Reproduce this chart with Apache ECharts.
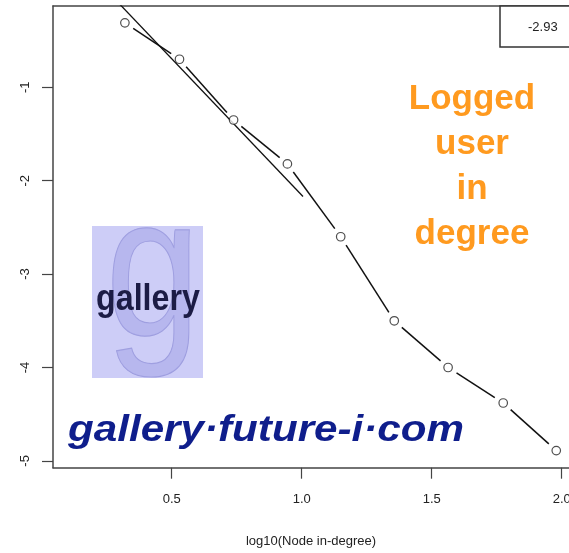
<!DOCTYPE html>
<html>
<head>
<meta charset="utf-8">
<script src="https://cdn.jsdelivr.net/npm/echarts@6/dist/echarts.min.js"></script>
<style>
html,body{margin:0;padding:0;background:#fff;}
#chart{width:569px;height:553px;}
</style>
</head>
<body>
<div id="chart"></div>
<script>
// Data
var logDegree = [0.320, 0.530, 0.738, 0.945, 1.150, 1.356, 1.563, 1.775, 1.979];
var logFreq   = [-0.31, -0.70, -1.35, -1.82, -2.60, -3.50, -4.00, -4.38, -4.89];
var fitLine   = [[0.30, -0.11], [1.005, -2.17]];
var fitLabel  = '-2.93';
var xTicks    = [0.5, 1.0, 1.5, 2.0];
var yTicks    = [-5, -4, -3, -2, -1];
var xName     = 'log10(Node in-degree)';
var noteLines = ['Logged', 'user', 'in', 'degree'];
var watermark = 'gallery\u00b7future-i\u00b7com';

var points = logDegree.map(function (x, i) { return [x, logFreq[i]]; });
var segments = [];
for (var i = 0; i < points.length - 1; i++) {
  segments.push([points[i][0], points[i][1], points[i + 1][0], points[i + 1][1]]);
}

var font = 'Liberation Sans, Arial, Helvetica, sans-serif';
var chart = echarts.init(document.getElementById('chart'), null, {renderer: 'canvas'});

var X_MIN = 0.0435, X_MAX = 2.028;

chart.setOption({
  backgroundColor: '#ffffff',
  animation: false,
  grid: {
    left: 53, top: 6, bottom: 85.3, right: 0,
    show: false, containLabel: false, outerBoundsMode: 'none'
  },
  xAxis: [{
    type: 'value', min: X_MIN, max: X_MAX,
    name: xName, nameLocation: 'middle', nameGap: 67,
    nameTextStyle: {fontFamily: font, fontSize: 13, color: '#222'},
    axisLine: {show: true, lineStyle: {color: '#444', width: 1.5}},
    axisTick: {show: true, length: 11, customValues: xTicks, lineStyle: {color: '#444', width: 1.2}},
    axisLabel: {
      show: true, customValues: xTicks, margin: 25,
      fontFamily: font, fontSize: 13, color: '#222',
      formatter: function (v) { return v.toFixed(1); }
    },
    splitLine: {show: false}
  }, {
    type: 'value', position: 'top', min: X_MIN, max: X_MAX,
    axisLine: {show: true, lineStyle: {color: '#444', width: 1.5}},
    axisTick: {show: false}, axisLabel: {show: false}, splitLine: {show: false}
  }],
  yAxis: {
    type: 'value', min: -5.073, max: -0.1296,
    axisLine: {show: true, lineStyle: {color: '#444', width: 1.5}},
    axisTick: {show: true, length: 11, customValues: yTicks, lineStyle: {color: '#444', width: 1.2}},
    axisLabel: {
      show: true, customValues: yTicks, margin: 21, rotate: 90,
      fontFamily: font, fontSize: 13, color: '#222'
    },
    splitLine: {show: false}
  },
  graphic: [
    {
      type: 'group', z: 0, silent: true,
      clipPath: {type: 'rect', shape: {x: 92, y: 226, width: 111, height: 152}},
      children: [
        {
          type: 'rect',
          shape: {x: 92, y: 226, width: 111, height: 152},
          style: {fill: '#cdcdf7'}
        },
        {
          type: 'text',
          x: 153, y: 280, scaleX: 0.85,
          style: {
            text: 'g', fontFamily: font, fontSize: 200,
            fill: 'rgba(165,165,232,0.55)', stroke: 'rgba(125,125,205,0.6)', lineWidth: 1.2,
            align: 'center', verticalAlign: 'middle'
          }
        },
        {
          type: 'text',
          x: 148, y: 300, scaleX: 0.87,
          style: {
            text: 'gallery', fontFamily: font, fontSize: 37, fontWeight: 'bold',
            fill: '#1c1c45', align: 'center', verticalAlign: 'middle'
          }
        }
      ]
    },
    {
      type: 'rect', z: 3, silent: true,
      shape: {x: 500, y: 6, width: 100, height: 41},
      style: {fill: '#fff', stroke: '#333', lineWidth: 1.5}
    },
    {
      type: 'text', z: 4, silent: true,
      x: 528, y: 27,
      style: {
        text: fitLabel, fontFamily: font, fontSize: 13, fill: '#222',
        align: 'left', verticalAlign: 'middle'
      }
    },
    {
      type: 'text', z: 5, silent: true,
      x: 472, y: 77,
      style: {
        text: noteLines.join('\n'), fontFamily: font, fontSize: 35, fontWeight: 'bold',
        lineHeight: 45, fill: '#ff9a1f', align: 'center', verticalAlign: 'top'
      }
    },
    {
      type: 'text', z: 6, silent: true,
      x: 68, y: 430.5, scaleX: 1.14,
      style: {
        text: watermark, fontFamily: font, fontSize: 37, fontWeight: 'bold', fontStyle: 'italic',
        fill: '#0f1e8c', align: 'left', verticalAlign: 'middle'
      }
    }
  ],
  series: [
    {
      type: 'line', data: fitLine, showSymbol: false, symbol: 'none', clip: true,
      lineStyle: {color: '#111', width: 1.3}, z: 3
    },
    {
      type: 'custom', data: segments, clip: true, z: 3,
      encode: {x: [0, 2], y: [1, 3]},
      renderItem: function (params, api) {
        var p1 = api.coord([api.value(0), api.value(1)]);
        var p2 = api.coord([api.value(2), api.value(3)]);
        var dx = p2[0] - p1[0], dy = p2[1] - p1[1];
        var L = Math.sqrt(dx * dx + dy * dy);
        var g = 10, ux = dx / L, uy = dy / L;
        return {
          type: 'line',
          shape: {x1: p1[0] + ux * g, y1: p1[1] + uy * g, x2: p2[0] - ux * g, y2: p2[1] - uy * g},
          style: {stroke: '#111', lineWidth: 1.5}
        };
      }
    },
    {
      type: 'scatter', data: points, symbol: 'circle', symbolSize: 8.5, z: 4,
      itemStyle: {color: '#fff', borderColor: '#222', borderWidth: 1.2}
    }
  ]
});
</script>
</body>
</html>
